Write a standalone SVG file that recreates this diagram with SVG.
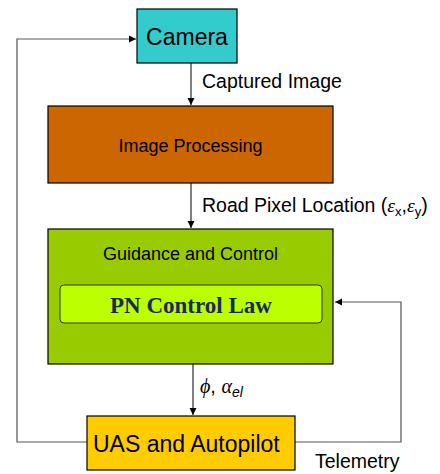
<svg xmlns="http://www.w3.org/2000/svg" width="440" height="474" viewBox="0 0 440 474">
<defs>
<style>
.box{stroke:#000;stroke-width:1.2}
.t{font-family:"Liberation Sans",Arial,sans-serif;fill:#000}
.c{stroke:#000;stroke-width:1;fill:none}
.ci{stroke:#555;stroke-width:1.2;fill:none}
.g{font-family:"Liberation Serif","Times New Roman",serif;font-style:italic}
</style>
<marker id="ah" markerWidth="8" markerHeight="8" refX="7" refY="4" orient="auto" markerUnits="userSpaceOnUse">
<path d="M0,0.5 L7,4 L0,7.5 Z" fill="#000"/>
</marker>
</defs>
<rect width="440" height="474" fill="#fff"/>
<g id="connectors">
<line class="c" x1="191" y1="63" x2="191" y2="105" marker-end="url(#ah)"/>
<line class="c" x1="191" y1="183" x2="191" y2="228" marker-end="url(#ah)"/>
<line class="c" x1="193" y1="364" x2="193" y2="415" marker-end="url(#ah)"/>
<polyline class="ci" points="87,442 17,442 17,39 136,39" marker-end="url(#ah)"/>
<polyline class="ci" points="295,442 401,442 401,302 335,302" marker-end="url(#ah)"/>
<text class="t" x="202" y="88" font-size="19.5">Captured Image</text>
<text class="t" x="202" y="212" font-size="19.5">Road Pixel Location (<tspan class="g">ε</tspan><tspan font-size="13" dy="4">x</tspan><tspan dy="-4">,</tspan><tspan class="g">ε</tspan><tspan font-size="13" dy="4">y</tspan><tspan dy="-4">)</tspan></text>
<text class="t" x="200" y="393" font-size="20"><tspan class="g">ϕ</tspan>, <tspan class="g">α</tspan><tspan font-size="14" font-style="italic" dy="4">el</tspan></text>
<text class="t" x="315" y="468" font-size="19.5">Telemetry</text>
</g>
<g id="camera">
<rect class="box" x="137" y="9" width="100" height="54" fill="#33cccc"/>
<text class="t" x="187" y="45" font-size="23" text-anchor="middle">Camera</text>
</g>
<g id="image-processing">
<rect class="box" x="48" y="106" width="285" height="77" fill="#cc6600"/>
<text class="t" x="190.5" y="152" font-size="18" text-anchor="middle">Image Processing</text>
</g>
<g id="guidance">
<rect class="box" x="48" y="229" width="285" height="135" fill="#99cc00"/>
<text class="t" x="190.5" y="260" font-size="18" text-anchor="middle">Guidance and Control</text>
</g>
<g id="pn-control-law">
<rect x="60" y="285" width="262" height="38" rx="4" fill="#bbff00" stroke="#333" stroke-width="1"/>
<text x="191" y="313" font-family="'Liberation Serif','Times New Roman',serif" font-weight="bold" font-size="23" fill="#1a2a60" text-anchor="middle">PN Control Law</text>
</g>
<g id="uas">
<rect class="box" x="87" y="416" width="208" height="54" fill="#ffcc00"/>
<text class="t" x="93" y="452" font-size="23">UAS and Autopilot</text>
</g>
</svg>
